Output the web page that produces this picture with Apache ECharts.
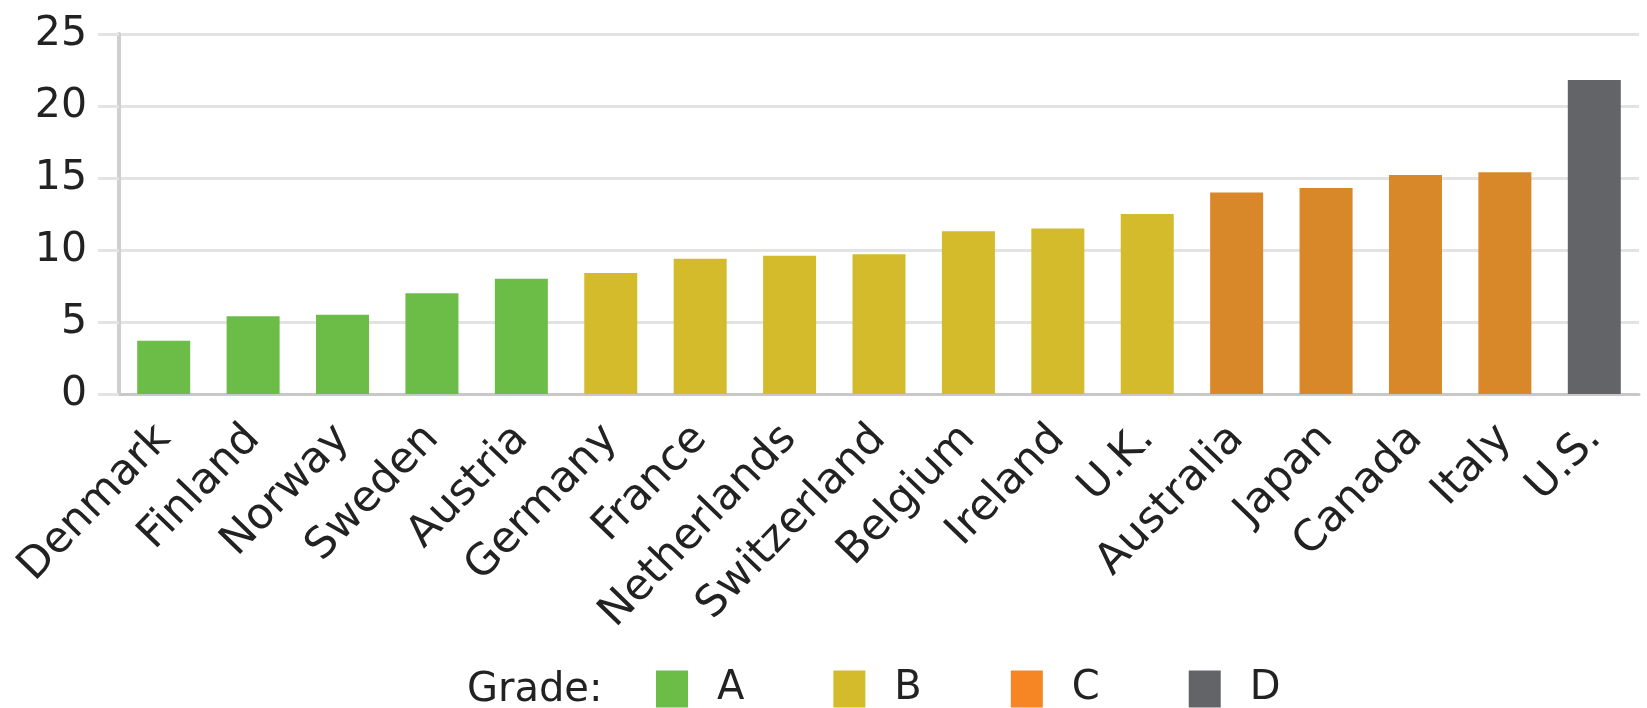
<!DOCTYPE html>
<html>
<head>
<meta charset="utf-8">
<script src="https://cdn.jsdelivr.net/npm/echarts@6/dist/echarts.min.js"></script>
<style>html,body{margin:0;padding:0;background:#fff;}#c{width:1647px;height:708px;}</style>
</head>
<body>
<div id="c"></div>
<script>
const categories = ['Denmark','Finland','Norway','Sweden','Austria','Germany','France','Netherlands','Switzerland','Belgium','Ireland','U.K.','Australia','Japan','Canada','Italy','U.S.'];
const values = [3.7,5.4,5.5,7.0,8.0,8.4,9.4,9.6,9.7,11.3,11.5,12.5,14.0,14.3,15.2,15.4,21.8];
const grades = ['A','A','A','A','A','B','B','B','B','B','B','B','C','C','C','C','D'];
const gradeNames = ['A','B','C','D'];
const barColors = {A:'#6CBC48', B:'#D4BB2C', C:'#D88829', D:'#636468'};
const legendColors = {A:'#6CBC48', B:'#D4BB2C', C:'#F68624', D:'#636468'};
const yTicks = [0,5,10,15,20,25];

const FONT = '"DejaVu Sans", Verdana, sans-serif';
const chart = echarts.init(document.getElementById('c'));
const series = gradeNames.map(g => ({
  name: g,
  type: 'bar',
  stack: 'all',
  barWidth: 53,
  itemStyle: {color: barColors[g]},
  data: values.map((v, i) => grades[i] === g ? v : null)
}));
chart.setOption({
  animation: false,
  title: {
    text: 'Grade:', left: 467, top: 671, padding: 0,
    textStyle: {fontFamily: FONT, fontSize: 40, fontWeight: 'normal', color: '#222'}
  },
  legend: {
    left: 656, top: 669, padding: 0,
    itemWidth: 32, itemHeight: 37, itemGap: 89,
    icon: 'rect',
    selectedMode: false,
    textStyle: {fontFamily: FONT, fontSize: 40, color: '#222', padding: [0,0,0,24], width: 30},
    data: gradeNames.map(g => ({name: g, itemStyle: {color: legendColors[g]}}))
  },
  grid: {left: 119, right: 8, top: 34, bottom: 314, containLabel: false},
  xAxis: {
    type: 'category',
    data: categories,
    axisLine: {show: true, lineStyle: {color: '#c8c8c8', width: 3}},
    axisTick: {show: false},
    axisLabel: {rotate: 46, margin: 38, fontFamily: FONT, fontSize: 43, color: '#222', interval: 0}
  },
  yAxis: {
    type: 'value',
    min: yTicks[0], max: yTicks[yTicks.length-1], interval: 5,
    axisLine: {show: true, lineStyle: {color: '#cfcfcf', width: 4}},
    axisTick: {show: true, length: 21, lineStyle: {color: '#e3e3e3', width: 3}},
    splitLine: {show: true, lineStyle: {color: '#e3e3e3', width: 3}},
    axisLabel: {margin: 32, fontFamily: FONT, fontSize: 41, color: '#222'}
  },
  series: series
});
</script>
</body>
</html>
